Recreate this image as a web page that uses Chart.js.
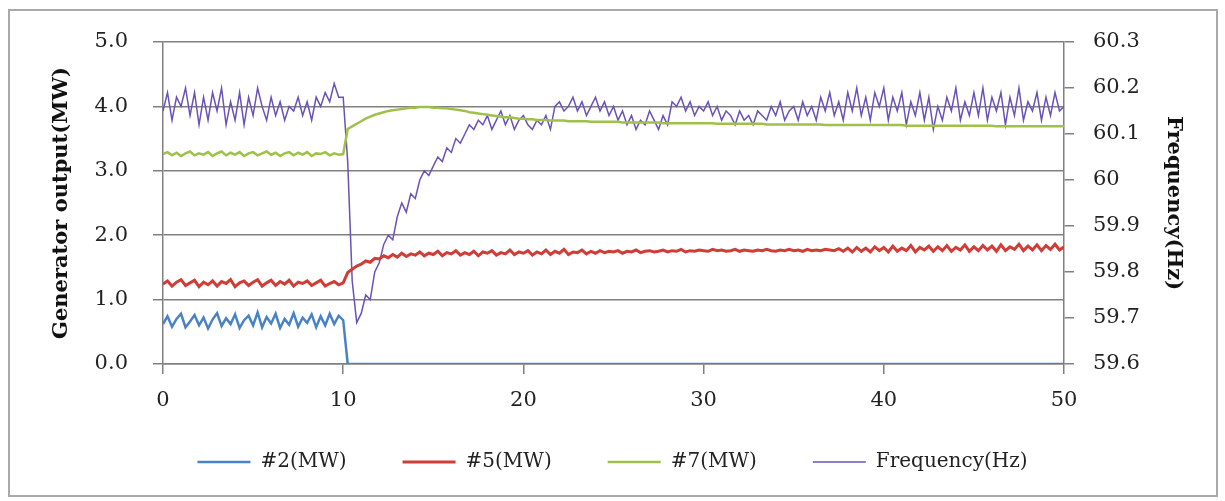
<!DOCTYPE html>
<html>
<head>
<meta charset="utf-8">
<title>Generator output and frequency</title>
<script src="https://cdn.jsdelivr.net/npm/chart.js@4.4.1/dist/chart.umd.min.js"></script>
<style>
	html, body { margin: 0; padding: 0; background: #fff; }
	#wrap { position: relative; width: 1225px; height: 501px; }
	#frame { position: absolute; left: 8px; top: 9px; width: 1210px; height: 488px; box-sizing: border-box; border: 2px solid #a9a9a9; pointer-events: none; }
	#grafica { position: absolute; left: 0; top: 0; }
</style>
</head>
<body>
<div id="wrap">
	<canvas id="grafica" width="1225" height="501"></canvas>
	<div id="frame"></div>
</div>
<script>
// sampled every 0.25 s, from 0 to 50 s
var sampleStep = 0.25;

var seriesNames = ['#2(MW)', '#5(MW)', '#7(MW)', 'Frequency(Hz)'];

var mw2 = [
	0.62, 0.74, 0.58, 0.70, 0.78, 0.57, 0.66, 0.76, 0.60, 0.72, 0.55, 0.69, 0.79, 0.59, 0.71, 0.62, 0.77, 0.56, 0.68, 0.75,
	0.60, 0.80, 0.57, 0.73, 0.63, 0.78, 0.56, 0.70, 0.61, 0.79, 0.58, 0.72, 0.64, 0.77, 0.57, 0.74, 0.60, 0.78, 0.62, 0.75,
	0.68, 0, 0, 0, 0, 0, 0, 0, 0, 0, 0, 0, 0, 0, 0, 0, 0, 0, 0, 0,
	0, 0, 0, 0, 0, 0, 0, 0, 0, 0, 0, 0, 0, 0, 0, 0, 0, 0, 0, 0,
	0, 0, 0, 0, 0, 0, 0, 0, 0, 0, 0, 0, 0, 0, 0, 0, 0, 0, 0, 0,
	0, 0, 0, 0, 0, 0, 0, 0, 0, 0, 0, 0, 0, 0, 0, 0, 0, 0, 0, 0,
	0, 0, 0, 0, 0, 0, 0, 0, 0, 0, 0, 0, 0, 0, 0, 0, 0, 0, 0, 0,
	0, 0, 0, 0, 0, 0, 0, 0, 0, 0, 0, 0, 0, 0, 0, 0, 0, 0, 0, 0,
	0, 0, 0, 0, 0, 0, 0, 0, 0, 0, 0, 0, 0, 0, 0, 0, 0, 0, 0, 0,
	0, 0, 0, 0, 0, 0, 0, 0, 0, 0, 0, 0, 0, 0, 0, 0, 0, 0, 0, 0,
	0
];

var mw5 = [
	1.24, 1.29, 1.21, 1.27, 1.31, 1.22, 1.26, 1.30, 1.20, 1.27, 1.23, 1.29, 1.21, 1.28, 1.25, 1.31, 1.20, 1.26, 1.29, 1.22,
	1.27, 1.31, 1.21, 1.26, 1.30, 1.22, 1.28, 1.24, 1.30, 1.21, 1.27, 1.25, 1.29, 1.22, 1.26, 1.30, 1.21, 1.25, 1.28, 1.23,
	1.26, 1.42, 1.47, 1.52, 1.55, 1.60, 1.58, 1.64, 1.63, 1.68, 1.65, 1.70, 1.66, 1.72, 1.67, 1.71, 1.69, 1.74, 1.68, 1.72,
	1.70, 1.75, 1.68, 1.73, 1.71, 1.76, 1.69, 1.73, 1.70, 1.75, 1.68, 1.74, 1.72, 1.76, 1.69, 1.73, 1.71, 1.77, 1.70, 1.74,
	1.72, 1.76, 1.69, 1.74, 1.71, 1.77, 1.70, 1.75, 1.72, 1.78, 1.70, 1.74, 1.73, 1.77, 1.71, 1.75, 1.72, 1.76, 1.73, 1.75,
	1.74, 1.76, 1.72, 1.75, 1.74, 1.77, 1.73, 1.75, 1.76, 1.74, 1.75, 1.77, 1.74, 1.76, 1.75, 1.78, 1.74, 1.76, 1.75, 1.77,
	1.76, 1.75, 1.78, 1.76, 1.77, 1.75, 1.76, 1.78, 1.75, 1.77, 1.76, 1.75, 1.77, 1.76, 1.78, 1.76, 1.75, 1.77, 1.76, 1.78,
	1.76, 1.77, 1.75, 1.78, 1.76, 1.77, 1.76, 1.78, 1.77, 1.76, 1.79, 1.75, 1.80, 1.74, 1.81, 1.75, 1.80, 1.74, 1.82, 1.76,
	1.81, 1.74, 1.83, 1.75, 1.80, 1.76, 1.84, 1.74, 1.81, 1.77, 1.83, 1.75, 1.82, 1.76, 1.84, 1.75, 1.81, 1.77, 1.85, 1.75,
	1.82, 1.76, 1.84, 1.77, 1.83, 1.75, 1.85, 1.76, 1.82, 1.78, 1.86, 1.76, 1.83, 1.77, 1.85, 1.76, 1.84, 1.78, 1.86, 1.77,
	1.82
];

var mw7 = [
	3.26, 3.29, 3.24, 3.28, 3.23, 3.27, 3.30, 3.24, 3.27, 3.25, 3.29, 3.23, 3.27, 3.30, 3.24, 3.28, 3.25, 3.29, 3.23, 3.27,
	3.29, 3.24, 3.27, 3.30, 3.25, 3.28, 3.23, 3.27, 3.29, 3.24, 3.28, 3.25, 3.29, 3.23, 3.27, 3.26, 3.29, 3.24, 3.27, 3.25,
	3.26, 3.65, 3.69, 3.73, 3.77, 3.81, 3.84, 3.87, 3.89, 3.91, 3.93, 3.94, 3.95, 3.96, 3.97, 3.98, 3.98, 3.99, 3.99, 3.99,
	3.98, 3.98, 3.97, 3.97, 3.96, 3.95, 3.94, 3.93, 3.91, 3.90, 3.89, 3.88, 3.87, 3.86, 3.85, 3.84, 3.83, 3.83, 3.82, 3.81,
	3.81, 3.80, 3.80, 3.79, 3.79, 3.79, 3.78, 3.78, 3.78, 3.78, 3.77, 3.77, 3.77, 3.77, 3.77, 3.76, 3.76, 3.76, 3.76, 3.76,
	3.76, 3.76, 3.75, 3.75, 3.75, 3.75, 3.75, 3.75, 3.75, 3.75, 3.75, 3.74, 3.74, 3.74, 3.74, 3.74, 3.74, 3.74, 3.74, 3.74,
	3.74, 3.74, 3.74, 3.73, 3.73, 3.73, 3.73, 3.73, 3.73, 3.73, 3.73, 3.73, 3.73, 3.73, 3.72, 3.72, 3.72, 3.72, 3.72, 3.72,
	3.72, 3.72, 3.72, 3.72, 3.72, 3.72, 3.72, 3.71, 3.71, 3.71, 3.71, 3.71, 3.71, 3.71, 3.71, 3.71, 3.71, 3.71, 3.71, 3.71,
	3.71, 3.71, 3.71, 3.71, 3.71, 3.70, 3.70, 3.70, 3.70, 3.70, 3.70, 3.70, 3.70, 3.70, 3.70, 3.70, 3.70, 3.70, 3.70, 3.70,
	3.70, 3.70, 3.70, 3.70, 3.70, 3.69, 3.69, 3.69, 3.69, 3.69, 3.69, 3.69, 3.69, 3.69, 3.69, 3.69, 3.69, 3.69, 3.69, 3.69,
	3.69
];

var frecuencia = [
	60.15, 60.19, 60.13, 60.18, 60.16, 60.20, 60.14, 60.19, 60.12, 60.18, 60.13, 60.19, 60.15, 60.20, 60.12, 60.17, 60.13, 60.19, 60.12, 60.18,
	60.14, 60.20, 60.16, 60.13, 60.18, 60.14, 60.17, 60.13, 60.16, 60.15, 60.18, 60.14, 60.17, 60.13, 60.18, 60.16, 60.19, 60.17, 60.21, 60.18,
	60.18, 60.04, 59.78, 59.69, 59.71, 59.75, 59.74, 59.80, 59.82, 59.86, 59.88, 59.87, 59.92, 59.95, 59.93, 59.97, 59.96, 60.00, 60.02, 60.01,
	60.03, 60.05, 60.04, 60.07, 60.06, 60.09, 60.08, 60.10, 60.12, 60.11, 60.13, 60.12, 60.14, 60.11, 60.13, 60.15, 60.12, 60.14, 60.11, 60.13,
	60.14, 60.12, 60.11, 60.13, 60.12, 60.14, 60.11, 60.16, 60.17, 60.15, 60.16, 60.18, 60.15, 60.17, 60.14, 60.16, 60.18, 60.15, 60.17, 60.14,
	60.16, 60.13, 60.15, 60.12, 60.14, 60.11, 60.13, 60.12, 60.15, 60.13, 60.11, 60.14, 60.12, 60.17, 60.16, 60.18, 60.15, 60.17, 60.14, 60.16,
	60.15, 60.17, 60.14, 60.16, 60.13, 60.15, 60.14, 60.12, 60.15, 60.13, 60.14, 60.12, 60.15, 60.14, 60.13, 60.16, 60.14, 60.17, 60.13, 60.15,
	60.16, 60.13, 60.17, 60.14, 60.16, 60.13, 60.18, 60.15, 60.19, 60.14, 60.17, 60.13, 60.19, 60.15, 60.20, 60.14, 60.18, 60.13, 60.19, 60.16,
	60.20, 60.13, 60.18, 60.15, 60.19, 60.12, 60.17, 60.14, 60.19, 60.13, 60.18, 60.11, 60.16, 60.13, 60.18, 60.15, 60.20, 60.13, 60.17, 60.14,
	60.19, 60.14, 60.20, 60.13, 60.18, 60.15, 60.19, 60.12, 60.18, 60.14, 60.20, 60.13, 60.17, 60.15, 60.19, 60.13, 60.18, 60.14, 60.19, 60.15,
	60.16
];

var mwTicks = ['0.0', '1.0', '2.0', '3.0', '4.0', '5.0'];
var hzTicks = ['59.6', '59.7', '59.8', '59.9', '60', '60.1', '60.2', '60.3'];
var timeTicks = ['0', '10', '20', '30', '40', '50'];

var colores = ['#4a82c8', '#d03c36', '#9fc14a', '#6a52b8'];

var fuente = 'DejaVu Serif';
var gris = '#808080';

// the legend keeps its wide item spacing but sits closer to the axis
var subirLeyenda = {
	id: 'subirLeyenda',
	afterLayout: function (chart) {
		chart.legend.top -= 18;
		chart.legend.bottom -= 18;
	}
};

document.addEventListener('DOMContentLoaded', function () {
	fntGrafica();
});

function puntos(valores) {
	let out = [];
	for (let i = 0; i < valores.length; i++) {
		out.push({ x: i * sampleStep, y: valores[i] });
	}
	return out;
}

function fntGrafica() {
	var ctx = document.getElementById('grafica');
	new Chart(ctx, {
		type: 'line',
		data: {
			datasets: [
				{ label: seriesNames[0], data: puntos(mw2), borderColor: colores[0], backgroundColor: colores[0], borderWidth: 2.5, yAxisID: 'y' },
				{ label: seriesNames[1], data: puntos(mw5), borderColor: colores[1], backgroundColor: colores[1], borderWidth: 3, yAxisID: 'y' },
				{ label: seriesNames[2], data: puntos(mw7), borderColor: colores[2], backgroundColor: colores[2], borderWidth: 2.5, yAxisID: 'y' },
				{ label: seriesNames[3], data: puntos(frecuencia), borderColor: colores[3], backgroundColor: colores[3], borderWidth: 1.5, yAxisID: 'y1' }
			]
		},
		plugins: [subirLeyenda],
		options: {
			responsive: false,
			animation: false,
			devicePixelRatio: 1,
			elements: {
				point: { radius: 0 },
				line: { tension: 0 }
			},
			layout: { padding: { top: 42, left: 0, right: 0, bottom: 1 } },
			plugins: {
				tooltip: { enabled: false },
				legend: {
					position: 'bottom',
					labels: {
						usePointStyle: true,
						pointStyle: 'line',
						pointStyleWidth: 53,
						padding: 56,
						color: '#222',
						font: { family: fuente, size: 20 }
					}
				}
			},
			scales: {
				x: {
					type: 'linear',
					min: 0,
					max: 50,
					ticks: {
						stepSize: 10,
						padding: 14,
						color: '#222',
						font: { family: fuente, size: 21 },
						callback: function (v, i) { return timeTicks[i]; }
					},
					grid: { drawOnChartArea: false, tickLength: 10, color: gris, lineWidth: 1.5 },
					border: { color: gris, width: 1.5 },
					afterFit: function (s) { s.height = 50; }
				},
				y: {
					position: 'left',
					min: 0,
					max: 5,
					ticks: {
						stepSize: 1,
						padding: 25,
						color: '#222',
						font: { family: fuente, size: 21 },
						callback: function (v, i) { return mwTicks[i]; }
					},
					grid: { tickLength: 10, color: gris, lineWidth: 1.5 },
					border: { color: gris, width: 1.5 },
					title: {
						display: true,
						text: 'Generator output(MW)',
						color: '#111',
						padding: { top: 49, bottom: 0 },
						font: { family: fuente, size: 21, weight: 'bold' }
					},
					afterFit: function (s) { s.width = 163; }
				},
				y1: {
					position: 'right',
					min: 59.6,
					max: 60.3,
					ticks: {
						stepSize: 0.1,
						padding: 19,
						color: '#222',
						font: { family: fuente, size: 21 },
						callback: function (v, i) { return hzTicks[i]; }
					},
					grid: { drawOnChartArea: false, tickLength: 10, color: gris, lineWidth: 1.5 },
					border: { color: gris, width: 1.5 },
					title: {
						display: true,
						text: 'Frequency(Hz)',
						color: '#111',
						padding: { top: 39, bottom: 0 },
						font: { family: fuente, size: 21, weight: 'bold' }
					},
					afterFit: function (s) { s.width = 161; }
				}
			}
		}
	});
}
</script>
</body>
</html>
